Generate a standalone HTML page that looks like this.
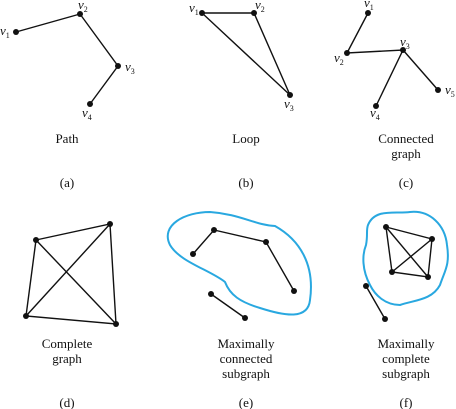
<!DOCTYPE html>
<html><head><style>body{margin:0;background:#fff}svg{display:block}text{font-family:"Liberation Serif","DejaVu Serif",serif;font-size:13px;fill:#111}.v{font-style:italic;font-size:13px}.s{font-size:8px;font-style:normal}</style></head><body>
<svg width="456" height="409" viewBox="0 0 456 409">
<g stroke="#111" stroke-width="1.4" fill="none">
<polyline points="16,32 80,14 118,66 90,104"/>
<polygon points="202,13 254,13 290,95"/>
<polyline points="368,13 347,53 403,50 376,106"/><line x1="403" y1="50" x2="438" y2="90"/>
<polygon points="36,240 110,224 116,324 26,316"/><line x1="36" y1="240" x2="116" y2="324"/><line x1="110" y1="224" x2="26" y2="316"/>
<polyline points="193,254 214,230 266,242 294,291"/><line x1="211" y1="294" x2="245" y2="318"/>
<polygon points="386,227 432,239 428,277 392,272"/><line x1="386" y1="227" x2="428" y2="277"/><line x1="432" y1="239" x2="392" y2="272"/><line x1="366" y1="286" x2="385" y2="319"/>
</g>
<path d="M170,245 C160,225 185,212 210,212 C240,214 255,225 275,226 C300,240 315,265 310,300 C308,320 285,316 260,308 C240,302 230,295 225,282 C210,270 180,262 170,245 Z" fill="none" stroke="#29a8e0" stroke-width="2"/>
<path d="M368,225 C375,208 395,214 410,212 C430,210 445,225 447,245 C450,265 445,270 440,285 C432,300 415,300 400,305 C385,305 375,295 370,285 C362,270 362,255 366,245 C368,235 366,230 368,225 Z" fill="none" stroke="#29a8e0" stroke-width="2"/>
<g fill="#111">
<circle cx="16" cy="32" r="3"/><circle cx="80" cy="14" r="3"/><circle cx="118" cy="66" r="3"/><circle cx="90" cy="104" r="3"/>
<circle cx="202" cy="13" r="3"/><circle cx="254" cy="13" r="3"/><circle cx="290" cy="95" r="3"/>
<circle cx="368" cy="13" r="3"/><circle cx="347" cy="53" r="3"/><circle cx="403" cy="50" r="3"/><circle cx="376" cy="106" r="3"/><circle cx="438" cy="90" r="3"/>
<circle cx="36" cy="240" r="3"/><circle cx="110" cy="224" r="3"/><circle cx="26" cy="316" r="3"/><circle cx="116" cy="324" r="3"/>
<circle cx="214" cy="230" r="3"/><circle cx="193" cy="254" r="3"/><circle cx="266" cy="242" r="3"/><circle cx="294" cy="291" r="3"/><circle cx="211" cy="294" r="3"/><circle cx="245" cy="318" r="3"/>
<circle cx="386" cy="227" r="3"/><circle cx="432" cy="239" r="3"/><circle cx="392" cy="272" r="3"/><circle cx="428" cy="277" r="3"/><circle cx="366" cy="286" r="3"/><circle cx="385" cy="319" r="3"/>
</g>
<text class="v" x="0" y="35">v<tspan class="s" dy="3">1</tspan></text>
<text class="v" x="78" y="9">v<tspan class="s" dy="3">2</tspan></text>
<text class="v" x="125" y="71">v<tspan class="s" dy="3">3</tspan></text>
<text class="v" x="82" y="117">v<tspan class="s" dy="3">4</tspan></text>
<text class="v" x="189" y="12">v<tspan class="s" dy="3">1</tspan></text>
<text class="v" x="255" y="9">v<tspan class="s" dy="3">2</tspan></text>
<text class="v" x="284" y="108">v<tspan class="s" dy="3">3</tspan></text>
<text class="v" x="364" y="7">v<tspan class="s" dy="3">1</tspan></text>
<text class="v" x="334" y="62">v<tspan class="s" dy="3">2</tspan></text>
<text class="v" x="400" y="46">v<tspan class="s" dy="3">3</tspan></text>
<text class="v" x="370" y="117">v<tspan class="s" dy="3">4</tspan></text>
<text class="v" x="445" y="94">v<tspan class="s" dy="3">5</tspan></text>
<g text-anchor="middle">
<text x="67" y="143">Path</text><text x="246" y="143">Loop</text>
<text x="406" y="143">Connected</text><text x="406" y="158">graph</text>
<text x="67" y="187">(a)</text><text x="246" y="187">(b)</text><text x="406" y="187">(c)</text>
<text x="67" y="348">Complete</text><text x="67" y="363">graph</text>
<text x="246" y="348">Maximally</text><text x="246" y="363">connected</text><text x="246" y="378">subgraph</text>
<text x="406" y="348">Maximally</text><text x="406" y="363">complete</text><text x="406" y="378">subgraph</text>
<text x="67" y="407">(d)</text><text x="246" y="407">(e)</text><text x="406" y="407">(f)</text>
</g>
</svg></body></html>
